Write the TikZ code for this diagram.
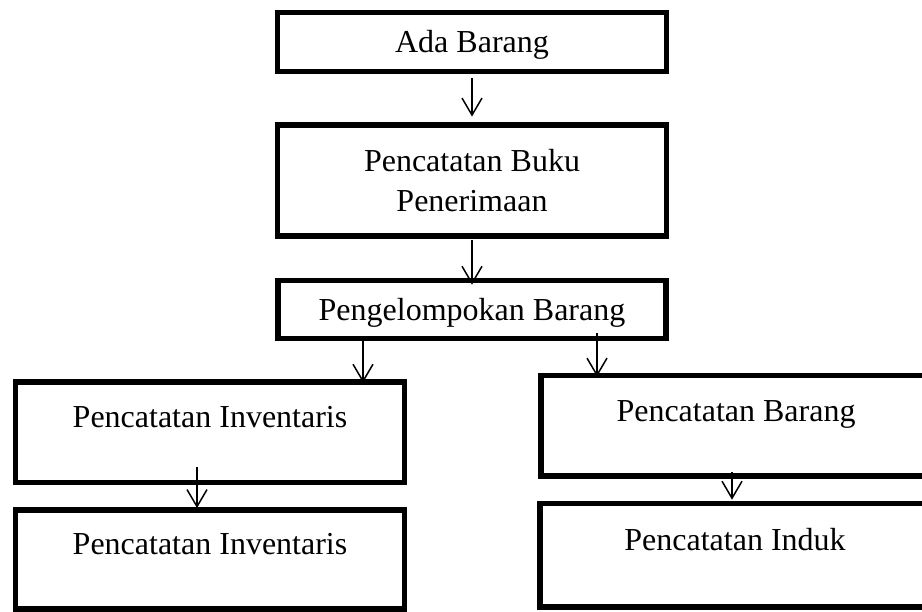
\documentclass[tikz,border=0pt]{standalone}
\usepackage{fontspec}
\setmainfont{Liberation Serif}
\usetikzlibrary{arrows.meta}

\begin{document}
\begin{tikzpicture}[x=1pt,y=-1pt,line width=1.5pt,
  >={Straight Barb[length=17pt,width=20pt]},
  box/.style={draw, line width=5.5pt, inner sep=0pt, minimum width=389pt, align=center, font=\fontsize{32}{40}\selectfont},
  mid/.style={text height=24pt, text depth=2.8pt},
  upper/.style={text height=21pt, text depth=29.8pt}]
  \useasboundingbox (0,0) rectangle (922,612);
  % top column
  \node[box, mid, minimum height=59pt] (ada) at (472,42) {Ada Barang};
  \node[box, minimum height=111pt] (buku) at (472,180.3) {Pencatatan Buku\\Penerimaan};
  \node[box, mid, minimum width=388pt, minimum height=57.6pt] (kelompok) at (472,309.5) {Pengelompokan Barang};
  % left column
  \node[box, upper, minimum height=100.7pt] (inv) at (210,432.3) {Pencatatan Inventaris};
  \node[box, upper, minimum height=99pt] (invb) at (210,559.3) {Pencatatan Inventaris};
  % right column
  \node[box, upper, minimum width=390pt, minimum height=100.7pt] (brg) at (736,425.7) {Pencatatan Barang};
  \node[box, upper, minimum width=390pt, minimum height=103.7pt] (induk) at (735,555.3) {Pencatatan Induk};
  \draw[->, shorten <=4pt, shorten >=5.5pt] (ada) -- (buku);
  \draw[->, shorten <=1.7pt, shorten >=-6.8pt] (buku) -- (kelompok);
  \draw[->, shorten >=-3.5pt] ([xshift=-109pt]kelompok.south) -- ([xshift=-109pt]kelompok.south |- inv.north);
  \draw[->, shorten <=-8pt, shorten >=-4pt] ([xshift=125pt]kelompok.south) -- ([xshift=125pt]kelompok.south |- brg.north);
  \draw[->, shorten <=-18.5pt, shorten >=-1pt] ([xshift=-13pt]inv.south) -- ([xshift=-13pt]inv.south |- invb.north);
  \draw[->, shorten <=-7pt, shorten >=1pt] ([xshift=-4pt]brg.south) -- ([xshift=-4pt]brg.south |- induk.north);
\end{tikzpicture}
\end{document}
